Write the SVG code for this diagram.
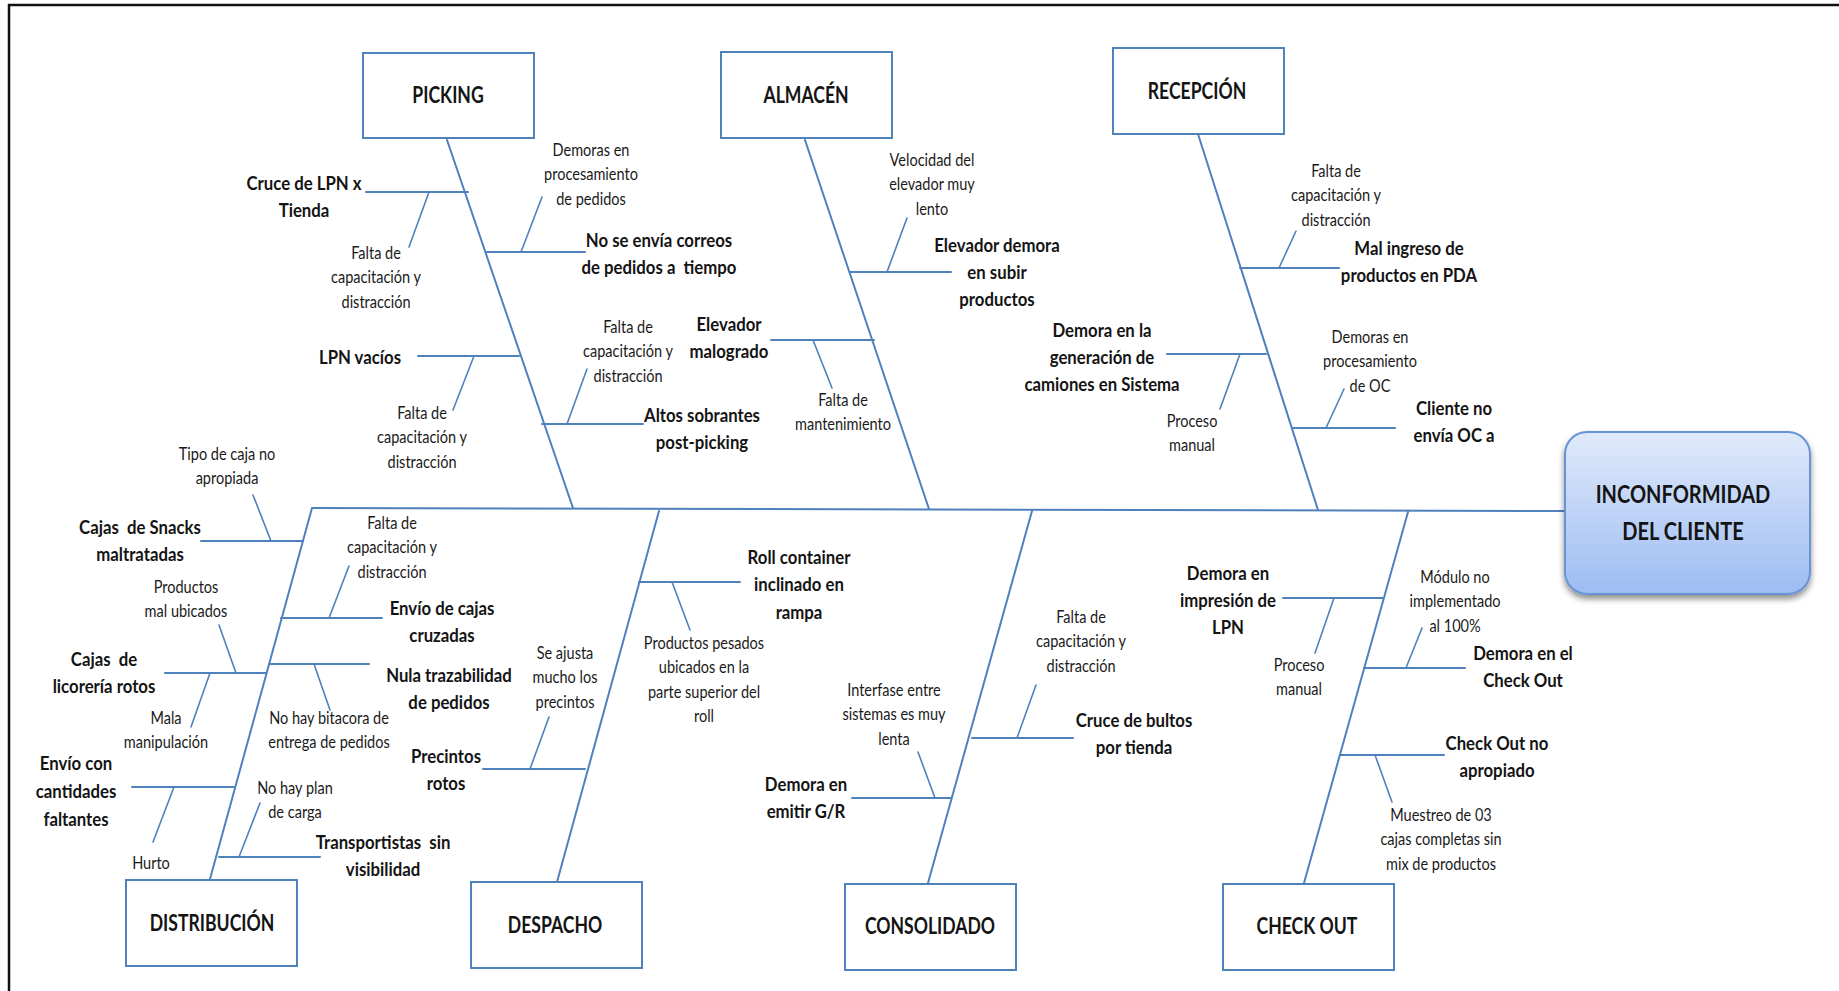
<svg xmlns="http://www.w3.org/2000/svg" width="1839" height="991" viewBox="0 0 1839 991">
  <defs>
    <style>
      .frame { stroke: #111; stroke-width: 2.5; fill: none; }
      .bone { stroke: #4F81BD; stroke-width: 2; fill: none; stroke-linecap: round; }
      .sub { stroke: #4F81BD; stroke-width: 1.6; fill: none; stroke-linecap: round; }
      .box { fill: #fff; stroke: #4F81BD; stroke-width: 2; }
      .b { font-family: Lato, "Liberation Sans", sans-serif; font-weight: 700; font-size: 19.5px; fill: #141414; text-anchor: middle; }
      .s { font-family: Lato, "Liberation Sans", sans-serif; font-weight: 400; font-size: 16.5px; fill: #1a1a1a; text-anchor: middle; }
      .h { font-family: Lato, "Liberation Sans", sans-serif; font-weight: 700; font-size: 22px; fill: #141414; text-anchor: middle; }
      .t { font-family: Lato, "Liberation Sans", sans-serif; font-weight: 700; font-size: 25px; fill: #141414; text-anchor: middle; }
    </style>
    <linearGradient id="headFill" x1="0" y1="0" x2="0" y2="1">
      <stop offset="0" stop-color="#e0eafb"/>
      <stop offset="1" stop-color="#9dbcf2"/>
    </linearGradient>
    <filter id="headShadow" x="-10%" y="-10%" width="120%" height="130%">
      <feGaussianBlur in="SourceAlpha" stdDeviation="3"/>
      <feOffset dx="0" dy="4" result="off"/>
      <feComponentTransfer><feFuncA type="linear" slope="0.45"/></feComponentTransfer>
      <feMerge><feMergeNode/><feMergeNode in="SourceGraphic"/></feMerge>
    </filter>
  </defs>

  <rect width="1839" height="991" fill="#fff"/>
  <!-- outer frame: top and left edges only -->
  <path class="frame" d="M8,5 H1839 M9,4 V991"/>

  <!-- all bones and ribs -->
  <g id="connectors">
    <path class="bone" d="M312,508 L1565,511"/>
    <!-- category bones -->
    <path class="bone" d="M447,140 L573,508"/>
    <path class="bone" d="M805,140 L929,509"/>
    <path class="bone" d="M1198,134 L1318,510"/>
    <path class="bone" d="M312,508 L210,879"/>
    <path class="bone" d="M659,511 L557,882"/>
    <path class="bone" d="M1032,511 L928,883"/>
    <path class="bone" d="M1408,512 L1304,883"/>

    <!-- picking ribs -->
    <path class="bone" d="M366,192 H468"/>
    <path class="sub" d="M429,192 L409,247"/>
    <path class="bone" d="M486,252 H585"/>
    <path class="sub" d="M521,252 L542,197"/>
    <path class="bone" d="M418,356 H519"/>
    <path class="sub" d="M474,356 L453,410"/>
    <path class="bone" d="M542,424 H643"/>
    <path class="sub" d="M567,424 L587,369"/>

    <!-- almacen ribs -->
    <path class="bone" d="M850,272 H951"/>
    <path class="sub" d="M887,272 L907,218"/>
    <path class="bone" d="M771,340 H874"/>
    <path class="sub" d="M813,340 L832,388"/>

    <!-- recepcion ribs -->
    <path class="bone" d="M1240,268 H1339"/>
    <path class="sub" d="M1279,268 L1296,231"/>
    <path class="bone" d="M1167,354 H1266"/>
    <path class="sub" d="M1240,354 L1220,409"/>
    <path class="bone" d="M1293,428 H1395"/>
    <path class="sub" d="M1326,428 L1344,389"/>

    <!-- distribucion ribs -->
    <path class="bone" d="M201,541 H303"/>
    <path class="sub" d="M271,541 L253,495"/>
    <path class="bone" d="M165,673 H266"/>
    <path class="sub" d="M236,673 L219,625"/>
    <path class="sub" d="M210,673 L191,727"/>
    <path class="bone" d="M132,787 H234"/>
    <path class="sub" d="M174,787 L153,842"/>
    <path class="bone" d="M281,618 H382"/>
    <path class="sub" d="M329,618 L349,566"/>
    <path class="bone" d="M269,664 H369"/>
    <path class="sub" d="M314,664 L330,710"/>
    <path class="bone" d="M219,857 H320"/>
    <path class="sub" d="M239,857 L260,803"/>

    <!-- despacho ribs -->
    <path class="bone" d="M639,582 H740"/>
    <path class="sub" d="M672,582 L690,630"/>
    <path class="bone" d="M483,769 H585"/>
    <path class="sub" d="M530,769 L549,717"/>

    <!-- consolidado ribs -->
    <path class="bone" d="M972,738 H1073"/>
    <path class="sub" d="M1017,738 L1036,685"/>
    <path class="bone" d="M852,798 H951"/>
    <path class="sub" d="M935,798 L918,752"/>

    <!-- check out ribs -->
    <path class="bone" d="M1283,598 H1383"/>
    <path class="sub" d="M1334,598 L1315,653"/>
    <path class="bone" d="M1364,668 H1465"/>
    <path class="sub" d="M1406,668 L1422,628"/>
    <path class="bone" d="M1340,755 H1444"/>
    <path class="sub" d="M1375,755 L1392,802"/>
  </g>

  <!-- head -->
  <g id="inconformidad">
    <rect x="1565" y="432" width="245" height="162" rx="22" fill="url(#headFill)" stroke="#6a93d6" stroke-width="2" filter="url(#headShadow)"/>
    <text class="t" transform="translate(1683,503) scale(.8,1)"><tspan x="0">INCONFORMIDAD</tspan><tspan x="0" dy="37">DEL CLIENTE</tspan></text>
  </g>

  <!-- categories -->
  <g id="picking">
    <rect class="box" x="363" y="53" width="171" height="85"/>
    <text class="h" transform="translate(448,103) scale(.8,1)">PICKING</text>
  </g>
  <g id="almacen">
    <rect class="box" x="721" y="52" width="171" height="86"/>
    <text class="h" transform="translate(806,103) scale(.8,1)">ALMACÉN</text>
  </g>
  <g id="recepcion">
    <rect class="box" x="1113" y="48" width="171" height="86"/>
    <text class="h" transform="translate(1197,99) scale(.8,1)">RECEPCIÓN</text>
  </g>
  <g id="distribucion">
    <rect class="box" x="126" y="880" width="171" height="86"/>
    <text class="h" transform="translate(212,931) scale(.8,1)">DISTRIBUCIÓN</text>
  </g>
  <g id="despacho">
    <rect class="box" x="471" y="882" width="171" height="86"/>
    <text class="h" transform="translate(555,933) scale(.8,1)">DESPACHO</text>
  </g>
  <g id="consolidado">
    <rect class="box" x="845" y="884" width="171" height="86"/>
    <text class="h" transform="translate(930,934) scale(.8,1)">CONSOLIDADO</text>
  </g>
  <g id="checkout">
    <rect class="box" x="1223" y="884" width="171" height="86"/>
    <text class="h" transform="translate(1307,934) scale(.8,1)">CHECK OUT</text>
  </g>

  <!-- causes: picking -->
  <g id="picking-causes">
    <text class="b" transform="translate(304,190) scale(.86,1)"><tspan x="0">Cruce de LPN x</tspan><tspan x="0" dy="27">Tienda</tspan></text>
    <text class="s" transform="translate(376,259) scale(.88,1)"><tspan x="0">Falta de</tspan><tspan x="0" dy="24.5">capacitación y</tspan><tspan x="0" dy="24.5">distracción</tspan></text>
    <text class="b" transform="translate(659,247) scale(.86,1)"><tspan x="0">No se envía correos</tspan><tspan x="0" dy="27">de pedidos a&#160; tiempo</tspan></text>
    <text class="s" transform="translate(591,156) scale(.88,1)"><tspan x="0">Demoras en</tspan><tspan x="0" dy="24.5">procesamiento</tspan><tspan x="0" dy="24.5">de pedidos</tspan></text>
    <text class="b" transform="translate(360,364) scale(.86,1)">LPN vacíos</text>
    <text class="s" transform="translate(422,419) scale(.88,1)"><tspan x="0">Falta de</tspan><tspan x="0" dy="24.5">capacitación y</tspan><tspan x="0" dy="24.5">distracción</tspan></text>
    <text class="b" transform="translate(702,422) scale(.86,1)"><tspan x="0">Altos sobrantes</tspan><tspan x="0" dy="27">post-picking</tspan></text>
    <text class="s" transform="translate(628,333) scale(.88,1)"><tspan x="0">Falta de</tspan><tspan x="0" dy="24.5">capacitación y</tspan><tspan x="0" dy="24.5">distracción</tspan></text>
  </g>

  <!-- causes: almacen -->
  <g id="almacen-causes">
    <text class="b" transform="translate(997,252) scale(.86,1)"><tspan x="0">Elevador demora</tspan><tspan x="0" dy="27">en subir</tspan><tspan x="0" dy="27">productos</tspan></text>
    <text class="s" transform="translate(932,166) scale(.88,1)"><tspan x="0">Velocidad del</tspan><tspan x="0" dy="24.5">elevador muy</tspan><tspan x="0" dy="24.5">lento</tspan></text>
    <text class="b" transform="translate(729,331) scale(.86,1)"><tspan x="0">Elevador</tspan><tspan x="0" dy="27">malogrado</tspan></text>
    <text class="s" transform="translate(843,406) scale(.88,1)"><tspan x="0">Falta de</tspan><tspan x="0" dy="24.5">mantenimiento</tspan></text>
  </g>

  <!-- causes: recepcion -->
  <g id="recepcion-causes">
    <text class="b" transform="translate(1409,255) scale(.86,1)"><tspan x="0">Mal ingreso de</tspan><tspan x="0" dy="27">productos en PDA</tspan></text>
    <text class="s" transform="translate(1336,177) scale(.88,1)"><tspan x="0">Falta de</tspan><tspan x="0" dy="24.5">capacitación y</tspan><tspan x="0" dy="24.5">distracción</tspan></text>
    <text class="b" transform="translate(1102,337) scale(.86,1)"><tspan x="0">Demora en la</tspan><tspan x="0" dy="27">generación de</tspan><tspan x="0" dy="27">camiones en Sistema</tspan></text>
    <text class="s" transform="translate(1192,427) scale(.88,1)"><tspan x="0">Proceso</tspan><tspan x="0" dy="24.5">manual</tspan></text>
    <text class="b" transform="translate(1454,415) scale(.86,1)"><tspan x="0">Cliente no</tspan><tspan x="0" dy="27">envía OC a</tspan></text>
    <text class="s" transform="translate(1370,343) scale(.88,1)"><tspan x="0">Demoras en</tspan><tspan x="0" dy="24.5">procesamiento</tspan><tspan x="0" dy="24.5">de OC</tspan></text>
  </g>

  <!-- causes: distribucion -->
  <g id="distribucion-causes">
    <text class="b" transform="translate(140,534) scale(.86,1)"><tspan x="0">Cajas&#160; de Snacks</tspan><tspan x="0" dy="27">maltratadas</tspan></text>
    <text class="s" transform="translate(227,460) scale(.88,1)"><tspan x="0">Tipo de caja no</tspan><tspan x="0" dy="24.5">apropiada</tspan></text>
    <text class="b" transform="translate(104,666) scale(.86,1)"><tspan x="0">Cajas&#160; de</tspan><tspan x="0" dy="27">licorería rotos</tspan></text>
    <text class="s" transform="translate(186,593) scale(.88,1)"><tspan x="0">Productos</tspan><tspan x="0" dy="24.5">mal ubicados</tspan></text>
    <text class="s" transform="translate(166,724) scale(.88,1)"><tspan x="0">Mala</tspan><tspan x="0" dy="24.5">manipulación</tspan></text>
    <text class="b" transform="translate(76,770) scale(.86,1)"><tspan x="0">Envío con</tspan><tspan x="0" dy="28">cantidades</tspan><tspan x="0" dy="28">faltantes</tspan></text>
    <text class="s" transform="translate(151,869) scale(.88,1)">Hurto</text>
    <text class="b" transform="translate(442,615) scale(.86,1)"><tspan x="0">Envío de cajas</tspan><tspan x="0" dy="27">cruzadas</tspan></text>
    <text class="s" transform="translate(392,529) scale(.88,1)"><tspan x="0">Falta de</tspan><tspan x="0" dy="24.5">capacitación y</tspan><tspan x="0" dy="24.5">distracción</tspan></text>
    <text class="b" transform="translate(449,682) scale(.86,1)"><tspan x="0">Nula trazabilidad</tspan><tspan x="0" dy="27">de pedidos</tspan></text>
    <text class="s" transform="translate(329,724) scale(.88,1)"><tspan x="0">No hay bitacora de</tspan><tspan x="0" dy="24.5">entrega de pedidos</tspan></text>
    <text class="b" transform="translate(383,849) scale(.86,1)"><tspan x="0">Transportistas&#160; sin</tspan><tspan x="0" dy="27">visibilidad</tspan></text>
    <text class="s" transform="translate(295,794) scale(.88,1)"><tspan x="0">No hay plan</tspan><tspan x="0" dy="24.5">de carga</tspan></text>
  </g>

  <!-- causes: despacho -->
  <g id="despacho-causes">
    <text class="b" transform="translate(799,564) scale(.86,1)"><tspan x="0">Roll container</tspan><tspan x="0" dy="27">inclinado en</tspan><tspan x="0" dy="28">rampa</tspan></text>
    <text class="s" transform="translate(704,649) scale(.88,1)"><tspan x="0">Productos pesados</tspan><tspan x="0" dy="24.5">ubicados en la</tspan><tspan x="0" dy="24.5">parte superior del</tspan><tspan x="0" dy="24.5">roll</tspan></text>
    <text class="b" transform="translate(446,763) scale(.86,1)"><tspan x="0">Precintos</tspan><tspan x="0" dy="27">rotos</tspan></text>
    <text class="s" transform="translate(565,659) scale(.88,1)"><tspan x="0">Se ajusta</tspan><tspan x="0" dy="24.5">mucho los</tspan><tspan x="0" dy="24.5">precintos</tspan></text>
  </g>

  <!-- causes: consolidado -->
  <g id="consolidado-causes">
    <text class="b" transform="translate(1134,727) scale(.86,1)"><tspan x="0">Cruce de bultos</tspan><tspan x="0" dy="27">por tienda</tspan></text>
    <text class="s" transform="translate(1081,623) scale(.88,1)"><tspan x="0">Falta de</tspan><tspan x="0" dy="24.5">capacitación y</tspan><tspan x="0" dy="24.5">distracción</tspan></text>
    <text class="b" transform="translate(806,791) scale(.86,1)"><tspan x="0">Demora en</tspan><tspan x="0" dy="27">emitir G/R</tspan></text>
    <text class="s" transform="translate(894,696) scale(.88,1)"><tspan x="0">Interfase entre</tspan><tspan x="0" dy="24.5">sistemas es muy</tspan><tspan x="0" dy="24.5">lenta</tspan></text>
  </g>

  <!-- causes: check out -->
  <g id="checkout-causes">
    <text class="b" transform="translate(1228,580) scale(.86,1)"><tspan x="0">Demora en</tspan><tspan x="0" dy="27">impresión de</tspan><tspan x="0" dy="27">LPN</tspan></text>
    <text class="s" transform="translate(1299,671) scale(.88,1)"><tspan x="0">Proceso</tspan><tspan x="0" dy="24.5">manual</tspan></text>
    <text class="b" transform="translate(1523,660) scale(.86,1)"><tspan x="0">Demora en el</tspan><tspan x="0" dy="27">Check Out</tspan></text>
    <text class="s" transform="translate(1455,583) scale(.88,1)"><tspan x="0">Módulo no</tspan><tspan x="0" dy="24.5">implementado</tspan><tspan x="0" dy="24.5">al 100%</tspan></text>
    <text class="b" transform="translate(1497,750) scale(.86,1)"><tspan x="0">Check Out no</tspan><tspan x="0" dy="27">apropiado</tspan></text>
    <text class="s" transform="translate(1441,821) scale(.88,1)"><tspan x="0">Muestreo de 03</tspan><tspan x="0" dy="24.5">cajas completas sin</tspan><tspan x="0" dy="24.5">mix de productos</tspan></text>
  </g>
</svg>
